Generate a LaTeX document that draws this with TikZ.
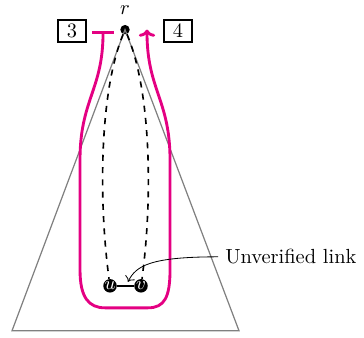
\documentclass[tikz,border=0pt]{standalone}
\usepackage{amsmath,amssymb,xcolor}
\definecolor{walkpink}{RGB}{228,0,130}
\definecolor{treegray}{RGB}{128,128,128}
\usepackage{tikz}
\usetikzlibrary{arrows.meta,positioning,calc}

\begin{document}
\begin{tikzpicture}[node distance=0.6cm]
    \tikzset{rootdot/.style={circle, fill=black, inner sep=0pt, minimum size=4.6pt}}
    \tikzset{leafnode/.style={circle, fill=black, text=white, inner sep=0pt,
      minimum size=6.6pt, font=\small}}
    \tikzset{stepnum/.style={rectangle, draw, thick, minimum width=13.5pt,
      minimum height=10.8pt, inner sep=1pt}}
    \tikzset{walk/.style={walkpink, line width=1.4pt}}

    \useasboundingbox (0,0) rectangle (6.26,5.81);

    % Root and the two tree leaves
    \node[rootdot, label={[label distance=1.2pt]above:$r$}] (r) at (2.15,5.30) {};
    \node[leafnode] (u) at (1.892,0.894) {$u$};
    \node[leafnode] (v) at (2.425,0.894) {$v$};

    % Tree outline
    \coordinate (bl) at (0.206,0.120);
    \coordinate (br) at (4.111,0.120);
    \draw[treegray, semithick] (r.center) -- (bl) -- (br) -- cycle;

    % Step boxes
    \node[stepnum] (s3) at (1.238,5.281) {3};
    \node[stepnum] (s4) at (3.062,5.281) {4};

    % Tree paths from the root
    \draw[thick, dashed] (r) .. controls (1.70,4.20) and (1.70,2.30) .. (u);
    \draw[thick, dashed] (r) .. controls (2.617,4.20) and (2.617,2.30) .. (v);
    \draw[thick] (u) -- (v);

    % Walk down and back up
    \draw[walk, {Bar[width=11pt]}-{To[length=3.5pt, width=8pt]}]
      (1.772,5.281) .. controls (1.772,4.266) and (1.376,4.094) .. (1.376,3.062)
      -- (1.376,1.170) .. controls (1.376,0.70) and (1.52,0.516) .. (1.806,0.516)
      -- (2.546,0.516) .. controls (2.83,0.516) and (2.924,0.70) .. (2.924,1.170)
      -- (2.924,3.062) .. controls (2.924,4.094) and (2.528,4.266) .. (2.528,5.30);

    % Label
    \coordinate (linktip) at (2.20,0.963);
    \node[anchor=west] (note) at (3.75,1.393) {Unverified link};
    \draw[-{To}] (note.west) .. controls (2.58,1.393) and (2.339,1.238) .. (linktip);
\end{tikzpicture}
\end{document}
